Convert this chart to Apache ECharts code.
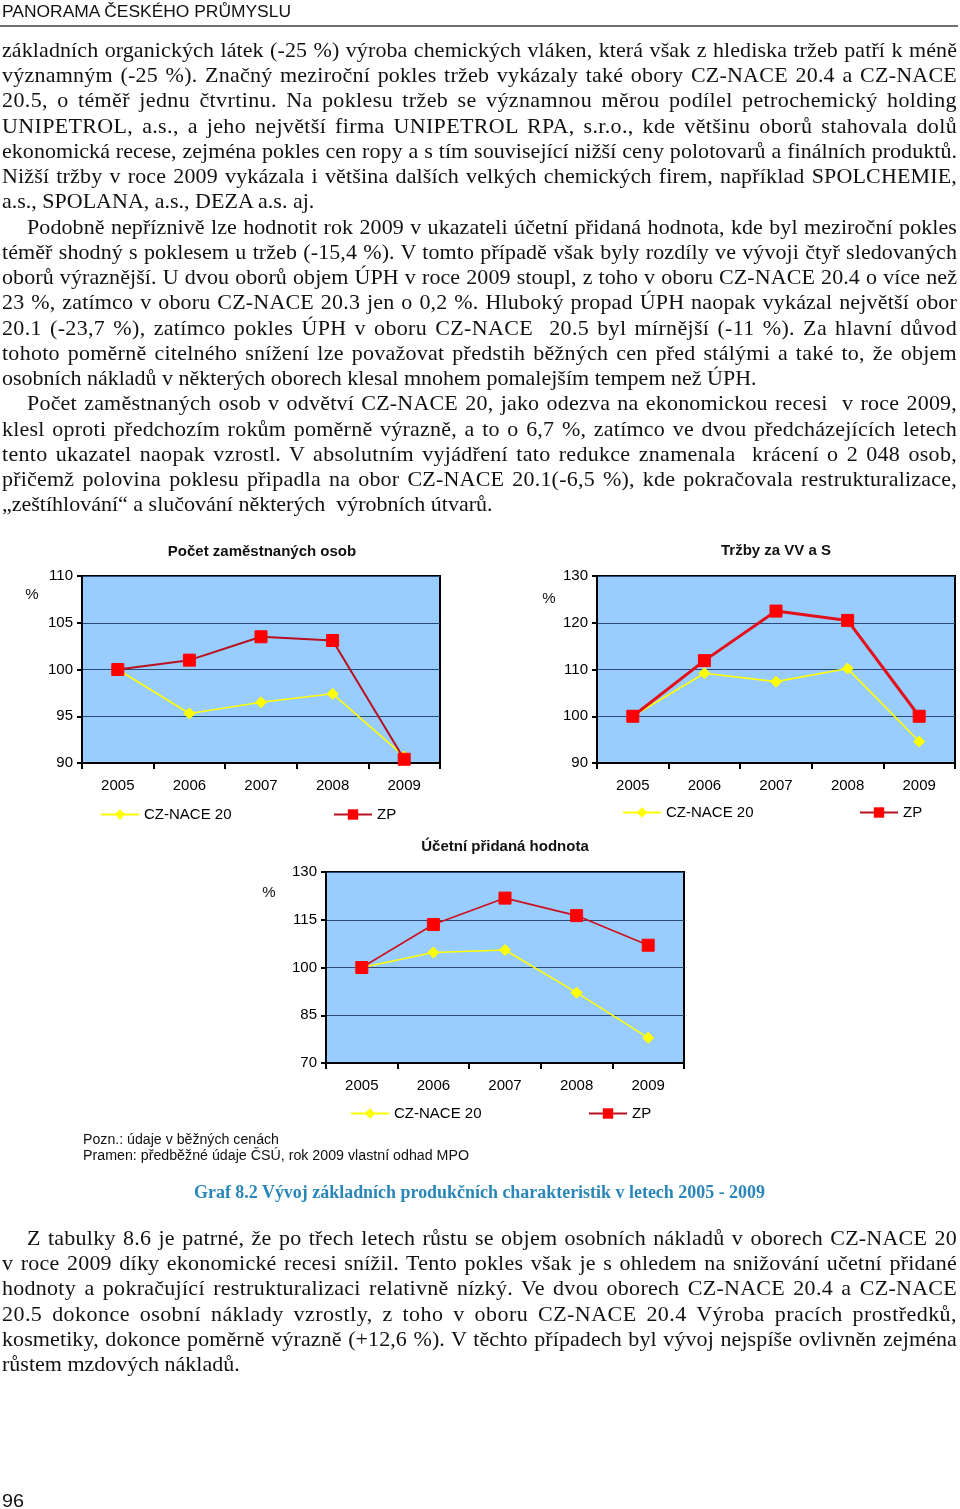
<!DOCTYPE html>
<html><head><meta charset="utf-8">
<script src="https://cdn.jsdelivr.net/npm/echarts@6/dist/echarts.min.js"></script>
<style>
html,body{margin:0;padding:0;background:#fff;}
#page{position:relative;width:960px;height:1509px;overflow:hidden;background:#fff;}
.ln{position:absolute;white-space:pre;transform-origin:0 0;}
#chart{position:absolute;left:0;top:0;width:960px;height:1509px;}
#rule{position:absolute;left:0;top:25px;width:958px;height:2px;background:#707070;}
</style></head>
<body><div id="page"><div id="rule"></div><div id="chart"></div></div>
<script>
// ---------- DATA ----------
const years = ['2005', '2006', '2007', '2008', '2009'];
const seriesNames = ['CZ-NACE 20', 'ZP'];
const empCZ = [100, 95.3, 96.5, 97.4, 90.7];
const empZP = [100, 101.0, 103.5, 103.1, 90.4];
const salesCZ = [100, 109.2, 107.4, 110.2, 94.6];
const salesZP = [100, 111.9, 122.5, 120.5, 100.0];
const gvaCZ = [100, 104.7, 105.5, 92.1, 77.9];
const gvaZP = [100, 113.5, 121.8, 116.3, 107.0];
const empTicks = [90, 110, 5];
const salesTicks = [90, 130, 10];
const gvaTicks = [70, 130, 15];
const chartTitles = ['Počet zaměstnaných osob', 'Tržby za VV a S', 'Účetní přidaná hodnota'];

const topText = [
 {t:'základních organických látek (-25 %) výroba chemických vláken, která však z hlediska tržeb patří k méně', j:1},
 {t:'významným (-25 %). Značný meziroční pokles tržeb vykázaly také obory CZ-NACE 20.4 a CZ-NACE', j:1},
 {t:'20.5, o téměř jednu čtvrtinu. Na poklesu tržeb se významnou měrou podílel petrochemický holding', j:1},
 {t:'UNIPETROL, a.s., a jeho největší firma UNIPETROL RPA, s.r.o., kde většinu oborů stahovala dolů', j:1},
 {t:'ekonomická recese, zejména pokles cen ropy a s tím související nižší ceny polotovarů a finálních produktů.', j:1},
 {t:'Nižší tržby v roce 2009 vykázala i většina dalších velkých chemických firem, například SPOLCHEMIE,', j:1},
 {t:'a.s., SPOLANA, a.s., DEZA a.s. aj.', j:0},
 {t:'Podobně nepříznivě lze hodnotit rok 2009 v ukazateli účetní přidaná hodnota, kde byl meziroční pokles', j:1, ind:25},
 {t:'téměř shodný s poklesem u tržeb (-15,4 %). V tomto případě však byly rozdíly ve vývoji čtyř sledovaných', j:1},
 {t:'oborů výraznější. U dvou oborů objem ÚPH v roce 2009 stoupl, z toho v oboru CZ-NACE 20.4 o více než', j:1},
 {t:'23 %, zatímco v oboru CZ-NACE 20.3 jen o 0,2 %. Hluboký propad ÚPH naopak vykázal největší obor', j:1},
 {t:'20.1 (-23,7 %), zatímco pokles ÚPH v oboru CZ-NACE  20.5 byl mírnější (-11 %). Za hlavní důvod', j:1},
 {t:'tohoto poměrně citelného snížení lze považovat předstih běžných cen před stálými a také to, že objem', j:1},
 {t:'osobních nákladů v některých oborech klesal mnohem pomalejším tempem než ÚPH.', j:0},
 {t:'Počet zaměstnaných osob v odvětví CZ-NACE 20, jako odezva na ekonomickou recesi  v roce 2009,', j:1, ind:25},
 {t:'klesl oproti předchozím rokům poměrně výrazně, a to o 6,7 %, zatímco ve dvou předcházejících letech', j:1},
 {t:'tento ukazatel naopak vzrostl. V absolutním vyjádření tato redukce znamenala  krácení o 2 048 osob,', j:1},
 {t:'přičemž polovina poklesu připadla na obor CZ-NACE 20.1(-6,5 %), kde pokračovala restrukturalizace,', j:1},
 {t:'„zeštíhlování“ a slučování některých  výrobních útvarů.', j:0}
];
const bottomText = [
 {t:'Z tabulky 8.6 je patrné, že po třech letech růstu se objem osobních nákladů v oborech CZ-NACE 20', j:1, ind:25},
 {t:'v roce 2009 díky ekonomické recesi snížil. Tento pokles však je s ohledem na snižování učetní přidané', j:1},
 {t:'hodnoty a pokračující restrukturalizaci relativně nízký. Ve dvou oborech CZ-NACE 20.4 a CZ-NACE', j:1},
 {t:'20.5 dokonce osobní náklady vzrostly, z toho v oboru CZ-NACE 20.4 Výroba pracích prostředků,', j:1},
 {t:'kosmetiky, dokonce poměrně výrazně (+12,6 %). V těchto případech byl vývoj nejspíše ovlivněn zejména', j:1},
 {t:'růstem mzdových nákladů.', j:0}
];

// ---------- TEXT LAYOUT ----------
const page = document.getElementById('page');
const SERIF = '"Liberation Serif","Times New Roman",serif';
const SANS = '"Liberation Sans",Arial,Helvetica,sans-serif';
function mk(text, left, top, fs, lh, fam, extra){
  const d = document.createElement('div');
  d.className = 'ln'; d.textContent = text;
  d.style.left = left + 'px'; d.style.top = top + 'px';
  d.style.fontSize = fs + 'px'; d.style.lineHeight = lh + 'px';
  d.style.fontFamily = fam; d.style.color = '#111';
  if (extra) Object.assign(d.style, extra);
  page.appendChild(d); return d;
}
function block(lines, x0, right, base0, step, fs){
  const lh = step;
  const off = (lh - 1.107*fs)/2 + 0.891*fs;
  const els = lines.map((ln,i)=> mk(ln.t, x0+(ln.ind||0), base0 + i*step - off, fs, lh, SERIF));
  const ws = els.map(e=>e.getBoundingClientRect().width);
  let s = 1;
  lines.forEach((ln,i)=>{ if(ln.j){ s = Math.min(s, (right - x0 - (ln.ind||0))/ws[i]); }});
  lines.forEach((ln,i)=>{
    const el = els[i];
    el.style.transform = 'scaleX(' + s + ')';
    if (ln.j){
      const avail = (right - x0 - (ln.ind||0))/s;
      const extra = avail - ws[i];
      const n = (ln.t.match(/ /g)||[]).length;
      const len = ln.t.length;
      if (extra > 0 && n){
        const ls = Math.min(0.7, 0.45*extra/len);
        el.style.letterSpacing = ls + 'px';
        el.style.wordSpacing = ((extra - ls*len)/n) + 'px';
      } else if (n) {
        el.style.wordSpacing = (extra/n) + 'px';
      }
    }
  });
}
function single(text, left, centerY, width, fs, fam, extra){
  const lh = Math.round(fs*1.2);
  const el = mk(text, left, centerY - lh/2, fs, lh, fam, extra);
  const w = el.getBoundingClientRect().width;
  el.style.transform = 'scaleX(' + (width/w) + ')';
}
single('PANORAMA ČESKÉHO PRŮMYSLU', 2, 11, 289, 16, SANS);
block(topText, 2, 957, 57, 25.24, 22);
block(bottomText, 2, 957, 1245, 25.2, 22);
single('Pozn.: údaje v běžných cenách', 83, 1139, 196, 14, SANS);
single('Pramen: předběžné údaje ČSÚ, rok 2009 vlastní odhad MPO', 83, 1155, 386, 14, SANS);
single('Graf 8.2 Vývoj základních produkčních charakteristik v letech 2005 - 2009', 194, 1192, 571, 18, SERIF, {fontWeight:'bold', color:'#2a86b9'});
single('96', 2, 1500, 22, 19, SANS);

// ---------- CHART ----------
const chart = echarts.init(document.getElementById('chart'), null, {renderer:'canvas'});
const grids = [
  {left:82, top:576, width:358, height:187},
  {left:597, top:576, width:358, height:187},
  {left:326, top:872, width:358, height:191}
];
const ticks = [empTicks, salesTicks, gvaTicks];
const data = [[empCZ, empZP], [salesCZ, salesZP], [gvaCZ, gvaZP]];
const zpStyle = [{c:'#b8101e', w:2}, {c:'#e3101a', w:3}, {c:'#cc1020', w:1.6}];
const titlePos = [[262, 552], [776, 551], [505, 847]];
const pctPos = [[32, 595], [549, 599], [269, 893]];
const legendPos = [[100, 333, 815], [622, 859, 813], [350, 588, 1114]];
const axisFont = {fontSize:15, color:'#000', fontFamily:SANS};

const option = {
  animation:false,
  grid: grids.map(g=>Object.assign({show:true, backgroundColor:'#99ccff', borderColor:'#000', borderWidth:2, containLabel:false}, g)),
  xAxis: grids.map((g,i)=>({
    type:'category', gridIndex:i, data:years, boundaryGap:true,
    axisLine:{lineStyle:{color:'#000', width:2}},
    axisTick:{show:true, inside:false, length:6, lineStyle:{color:'#000', width:2}},
    axisLabel:Object.assign({margin:15}, axisFont)
  })),
  yAxis: grids.map((g,i)=>({
    type:'value', gridIndex:i, min:ticks[i][0], max:ticks[i][1], interval:ticks[i][2],
    axisLine:{show:true, lineStyle:{color:'#000', width:2}},
    axisTick:{show:true, inside:false, length:5, lineStyle:{color:'#000', width:2}},
    splitLine:{show:true, lineStyle:{color:'#2a4a78', width:1}},
    axisLabel:Object.assign({margin:9}, axisFont)
  })),
  series: [],
  legend: [],
  graphic: []
};
data.forEach((d,i)=>{
  option.series.push({
    name:seriesNames[0], type:'line', xAxisIndex:i, yAxisIndex:i, data:d[0],
    symbol:'diamond', symbolSize:11, z:3,
    lineStyle:{color:'#ffff00', width:1.6},
    itemStyle:{color:'#ffff00', borderColor:'#ffff00'}
  });
  option.series.push({
    name:seriesNames[1], type:'line', xAxisIndex:i, yAxisIndex:i, data:d[1],
    symbol:'rect', symbolSize:12, z:4,
    lineStyle:{color:zpStyle[i].c, width:zpStyle[i].w},
    itemStyle:{color:'#ff0000', borderColor:'#ff0000'}
  });
  const lp = legendPos[i];
  [0,1].forEach(k=>{
    option.legend.push({
      data:[seriesNames[k]], left:lp[k], top:lp[2]-8, itemWidth:38, itemHeight:13, itemGap:0,
      padding:0, selectedMode:false,
      textStyle:{fontSize:15, color:'#000', fontFamily:SANS}
    });
  });
  option.graphic.push({
    type:'text', x:titlePos[i][0], y:titlePos[i][1],
    style:{text:chartTitles[i], fill:'#111', font:'bold 15px ' + SANS, align:'center', verticalAlign:'middle'}
  });
  option.graphic.push({
    type:'text', x:pctPos[i][0], y:pctPos[i][1],
    style:{text:'%', fill:'#111', font:'15px ' + SANS, align:'center', verticalAlign:'middle'}
  });
});
chart.setOption(option);
</script>
</body></html>
